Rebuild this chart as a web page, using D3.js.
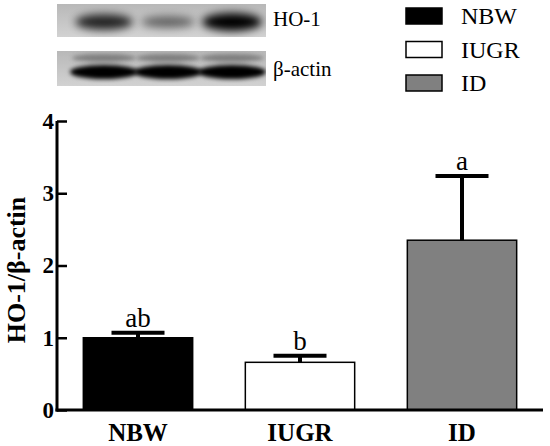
<!DOCTYPE html>
<html>
<head>
<meta charset="utf-8">
<script src="https://d3js.org/d3.v7.min.js"></script>
<style>
  body { margin: 0; background: #fff; }
  text { font-family: "Liberation Serif", "Times New Roman", serif; fill: #000; }
</style>
</head>
<body>
<div id="chart"></div>
<script>

// Data

var groups = ["NBW", "IUGR", "ID"];
var means = [1.0, 0.66, 2.35];
var errors = [0.07, 0.09, 0.89];
var letters = ["ab", "b", "a"];
var colors = ["#000000", "#ffffff", "#808080"];
var yTicks = [0, 1, 2, 3, 4];

// blot band intensities (0..1) per lane
var hoBands = [0.8, 0.45, 1.0];
var actinBands = [1.0, 1.0, 1.0];

var width = 550, height = 446;

var svg = d3.select("#chart").append("svg")
    .attr("width", width)
    .attr("height", height);

// Scales

var x = d3.scaleBand()
    .domain(groups)
    .range([57, 543])
    .paddingInner(0.325)
    .paddingOuter(0.1625);

var y = d3.scaleLinear()
    .domain([0, 4])
    .range([410, 121]);

var color = d3.scaleOrdinal()
    .domain(groups)
    .range(colors);

// Western blot panel

var defs = svg.append("defs");
defs.append("filter").attr("id", "blur")
    .attr("x", "-50%").attr("y", "-100%").attr("width", "200%").attr("height", "300%")
  .append("feGaussianBlur").attr("stdDeviation", 4);
defs.append("filter").attr("id", "blur2")
    .attr("x", "-50%").attr("y", "-100%").attr("width", "200%").attr("height", "300%")
  .append("feGaussianBlur").attr("stdDeviation", 2.2);
var grad = defs.append("linearGradient").attr("id", "blotbg")
    .attr("x1", 0).attr("y1", 0).attr("x2", 0).attr("y2", 1);
grad.append("stop").attr("offset", "0%").attr("stop-color", "#b8b8b8");
grad.append("stop").attr("offset", "100%").attr("stop-color", "#d2d2d2");
defs.append("clipPath").attr("id", "clip1")
  .append("rect").attr("x", 57).attr("y", 4).attr("width", 209).attr("height", 33);
defs.append("clipPath").attr("id", "clip2")
  .append("rect").attr("x", 57).attr("y", 51).attr("width", 209).attr("height", 35);

var lane = d3.scaleBand()
    .domain(groups)
    .range([72, 264]);

var opacity = d3.scaleLinear().domain([0, 1]).range([0.1, 1]);

var blot1 = svg.append("g").attr("clip-path", "url(#clip1)");
blot1.append("rect")
    .attr("x", 57).attr("y", 4).attr("width", 209).attr("height", 33)
    .style("fill", "url(#blotbg)");
blot1.selectAll(".band")
    .data(groups)
  .enter().append("ellipse")
    .attr("class", "band")
    .attr("cx", function(d) { return lane(d) + lane.bandwidth() / 2; })
    .attr("cy", 22)
    .attr("rx", function(d, i) { return 24 + 6 * hoBands[i]; })
    .attr("ry", function(d, i) { return 3 + 6 * hoBands[i]; })
    .style("fill", "#000")
    .style("opacity", function(d, i) { return opacity(hoBands[i]); })
    .attr("filter", "url(#blur)");

var blot2 = svg.append("g").attr("clip-path", "url(#clip2)");
blot2.append("rect")
    .attr("x", 57).attr("y", 51).attr("width", 209).attr("height", 35)
    .style("fill", "url(#blotbg)");
blot2.selectAll(".faint")
    .data(groups)
  .enter().append("ellipse")
    .attr("cx", function(d) { return lane(d) + lane.bandwidth() / 2; })
    .attr("cy", 58)
    .attr("rx", 32)
    .attr("ry", 4)
    .style("fill", "#555")
    .style("opacity", 0.6)
    .attr("filter", "url(#blur2)");
blot2.selectAll(".band")
    .data(groups)
  .enter().append("ellipse")
    .attr("class", "band")
    .attr("cx", function(d) { return lane(d) + lane.bandwidth() / 2; })
    .attr("cy", 72)
    .attr("rx", 34)
    .attr("ry", 7)
    .style("fill", "#000")
    .style("opacity", function(d, i) { return opacity(actinBands[i]); })
    .attr("filter", "url(#blur2)");

svg.append("text")
    .attr("x", 273).attr("y", 26)
    .style("font-size", "21px")
    .text("HO-1");
svg.append("text")
    .attr("x", 273).attr("y", 76)
    .style("font-size", "21px")
    .text("β-actin");

// Legend

var legend = svg.selectAll(".legend")
    .data(groups)
  .enter().append("g")
    .attr("class", "legend")
    .attr("transform", function(d, i) { return "translate(406," + (8 + i * 33.5) + ")"; });
legend.append("rect")
    .attr("width", 36)
    .attr("height", 16)
    .style("fill", color)
    .style("stroke", "#000")
    .style("stroke-width", 1.5);
legend.append("text")
    .attr("x", 55)
    .attr("y", 16)
    .style("font-family", "Liberation Serif")
    .style("font-size", "24px")
    .text(function(d) { return d; });

// Bars

svg.selectAll(".bar")
    .data(groups)
  .enter().append("rect")
    .attr("class", "bar")
    .attr("x", function(d) { return x(d); })
    .attr("y", function(d, i) { return y(means[i]); })
    .attr("width", x.bandwidth())
    .attr("height", function(d, i) { return y(0) - y(means[i]); })
    .style("fill", color)
    .style("stroke", "#000")
    .style("stroke-width", 1.5);

// Error bars (upper only)

var err = svg.selectAll(".err")
    .data(groups)
  .enter().append("g")
    .attr("class", "err");
err.append("line")
    .attr("x1", function(d) { return x(d) + x.bandwidth() / 2; })
    .attr("x2", function(d) { return x(d) + x.bandwidth() / 2; })
    .attr("y1", function(d, i) { return y(means[i]); })
    .attr("y2", function(d, i) { return y(means[i] + errors[i]); })
    .style("stroke", "#000")
    .style("stroke-width", 4);
err.append("line")
    .attr("x1", function(d) { return x(d) + x.bandwidth() / 2 - 26.5; })
    .attr("x2", function(d) { return x(d) + x.bandwidth() / 2 + 26.5; })
    .attr("y1", function(d, i) { return y(means[i] + errors[i]); })
    .attr("y2", function(d, i) { return y(means[i] + errors[i]); })
    .style("stroke", "#000")
    .style("stroke-width", 4);
err.append("text")
    .attr("x", function(d) { return x(d) + x.bandwidth() / 2; })
    .attr("y", function(d, i) { return y(means[i] + errors[i]) - 6; })
    .attr("text-anchor", "middle")
    .style("font-size", "27px")
    .text(function(d, i) { return letters[i]; });

// Axes

var yAxis = svg.append("g")
    .attr("transform", "translate(57,0)")
    .call(d3.axisLeft(y).tickValues(yTicks).tickFormat(d3.format("d"))
        .tickSizeInner(-10).tickSizeOuter(0).tickPadding(3));
yAxis.select(".domain").style("stroke-width", 3).attr("d", "M0,121V411.5");
yAxis.selectAll(".tick line").style("stroke-width", 2.5);
yAxis.selectAll(".tick text")
    .style("font-family", "Liberation Serif")
    .style("font-size", "23px")
    .style("font-weight", "bold");

var xAxis = svg.append("g")
    .attr("transform", "translate(0,410)")
    .call(d3.axisBottom(x).tickSize(0).tickPadding(13));
xAxis.select(".domain").style("stroke-width", 3).attr("d", "M55.5,0H543");
xAxis.selectAll(".tick text")
    .style("font-family", "Liberation Serif")
    .style("font-size", "25px")
    .style("font-weight", "bold");

svg.append("text")
    .attr("transform", "translate(25,270) rotate(-90)")
    .attr("text-anchor", "middle")
    .style("font-size", "26px")
    .style("font-weight", "bold")
    .text("HO-1/β-actin");

</script>
</body>
</html>
